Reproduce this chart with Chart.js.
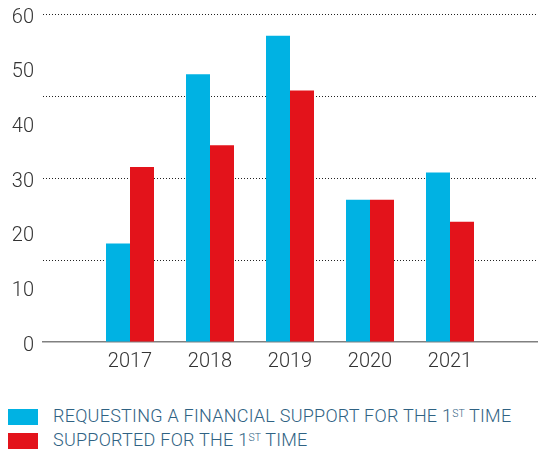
<!DOCTYPE html>
<html>
<head>
<meta charset="utf-8">
<script src="https://cdn.jsdelivr.net/npm/chart.js@4.4.0/dist/chart.umd.min.js"></script>
<style>
  html, body { margin: 0; padding: 0; background: #fff; }
  body { width: 538px; height: 454px; position: relative; overflow: hidden; font-family: Roboto, "Liberation Sans", sans-serif; }
  #wrap { position: absolute; left: 0; top: 0; width: 538px; height: 380px; }
  .leg { position: absolute; left: 8px; height: 16px; display: flex; align-items: center; }
  .box { width: 30px; height: 16px; margin-right: 15px; flex: none; }
  .txt { font-size: 18px; letter-spacing: 0.25px; font-weight: 300; color: #2f6283; white-space: nowrap; line-height: 16px; }
  .txt sup { font-size: 10.5px; letter-spacing: 0; vertical-align: 0; position: relative; top: -5px; }
</style>
</head>
<body>
<div id="wrap"><canvas id="c" width="538" height="380"></canvas></div>
<div class="leg" style="top:409px"><div class="box" style="background:#00b2e3"></div><div class="txt">REQUESTING A FINANCIAL SUPPORT FOR THE 1<sup>ST</sup> TIME</div></div>
<div class="leg" style="top:433px"><div class="box" style="background:#e3131b"></div><div class="txt">SUPPORTED FOR THE 1<sup>ST</sup> TIME</div></div>
<script>
const years = [2017, 2018, 2019, 2020, 2021];
const requesting = [18, 49, 56, 26, 31];
const supported = [32, 36, 46, 26, 22];
const yLabelTicks = [0, 10, 20, 30, 40, 50, 60];
const gridValues = [15, 30, 45, 60];
const seriesNames = ['REQUESTING A FINANCIAL SUPPORT FOR THE 1ST TIME', 'SUPPORTED FOR THE 1ST TIME'];

const toPts = arr => arr.map((v, i) => ({ x: years[i], y: v }));

new Chart(document.getElementById('c'), {
  type: 'bar',
  data: {
    datasets: [
      { label: seriesNames[0], data: toPts(requesting), backgroundColor: '#00b2e3', categoryPercentage: 0.6, barPercentage: 1.0 },
      { label: seriesNames[1], data: toPts(supported), backgroundColor: '#e3131b', categoryPercentage: 0.6, barPercentage: 1.0 }
    ]
  },
  options: {
    responsive: false,
    animation: false,
    layout: { padding: { top: 14, right: 0, bottom: 0, left: 0 } },
    plugins: { legend: { display: false }, tooltip: { enabled: false } },
    scales: {
      x: {
        type: 'linear',
        offset: false,
        min: 2015.9125,
        max: 2022.1,
        afterBuildTicks: s => { s.ticks = years.map(v => ({ value: v })); },
        afterFit: s => { s.height = 38; s.paddingLeft = 0; s.paddingRight = 0; },
        grid: { display: false, drawTicks: false },
        border: { display: true, color: '#808080', width: 1.5 },
        ticks: {
          callback: v => String(v),
          color: '#333',
          padding: 8,
          maxRotation: 0,
          font: { family: 'Roboto', size: 20, weight: 300 }
        }
      },
      y: {
        min: 0,
        max: 60,
        afterBuildTicks: s => {
          const vals = Array.from(new Set([...yLabelTicks, ...gridValues])).sort((a, b) => a - b);
          s.ticks = vals.map(v => ({ value: v }));
        },
        afterFit: s => { s.width = 43; s.paddingTop = 0; s.paddingBottom = 0; },
        border: { display: false, dash: [1, 2] },
        grid: {
          drawTicks: false,
          lineWidth: 1,
          color: ctx => (gridValues.includes(ctx.tick.value) ? '#222' : 'rgba(0,0,0,0)')
        },
        ticks: {
          padding: 9,
          labelOffset: 3.5,
          color: '#333',
          font: { family: 'Roboto', size: 20, weight: 300 },
          callback: v => (yLabelTicks.includes(v) ? String(v) : '')
        }
      }
    }
  }
});
</script>
</body>
</html>
